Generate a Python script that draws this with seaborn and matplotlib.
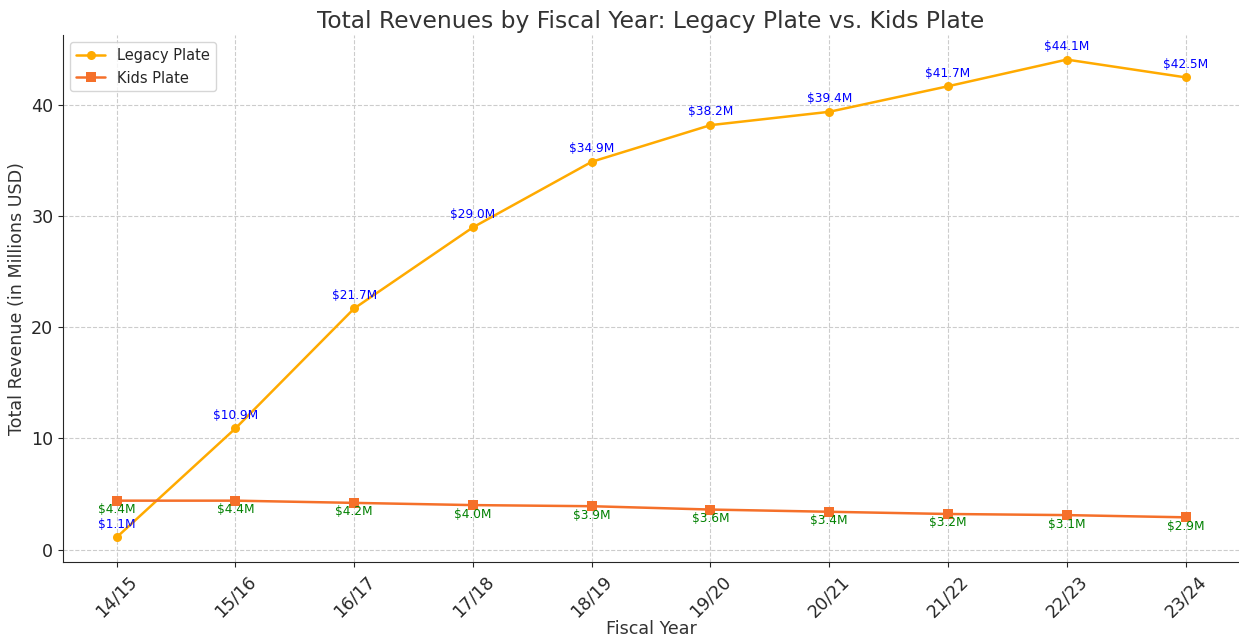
import matplotlib
matplotlib.use('Agg')
import matplotlib.pyplot as plt
import seaborn as sns
import pandas as pd

# data
years = ['14/15', '15/16', '16/17', '17/18', '18/19', '19/20', '20/21', '21/22', '22/23', '23/24']
legacy = [1.1, 10.9, 21.7, 29.0, 34.9, 38.2, 39.4, 41.7, 44.1, 42.5]
kids = [4.4, 4.4, 4.2, 4.0, 3.9, 3.6, 3.4, 3.2, 3.1, 2.9]

df = pd.DataFrame({'Fiscal_Year': years, 'Legacy': legacy, 'Kids': kids})

sns.set_style('ticks')
plt.rcParams['font.family'] = ['DejaVu Sans']

fig = plt.figure(figsize=(12.39, 6.39), dpi=100)
ax = fig.add_axes([0.051, 0.12, 0.949, 0.825])

sns.lineplot(data=df, x='Fiscal_Year', y='Legacy', marker='o', color='#FFAA00',
             label='Legacy Plate', ax=ax, markersize=6.5, markeredgewidth=0, linewidth=1.8)
sns.lineplot(data=df, x='Fiscal_Year', y='Kids', marker='s', color='#F5702A',
             label='Kids Plate', ax=ax, markersize=6.5, markeredgewidth=0, linewidth=1.8)

for i, v in enumerate(legacy):
    ax.annotate(f'${v}M', (i, v), textcoords='offset points', xytext=(0, 7),
                ha='center', fontsize=8.7, color='blue')
for i, v in enumerate(kids):
    ax.annotate(f'${v}M', (i, v), textcoords='offset points', xytext=(0, -9),
                ha='center', fontsize=8.7, color='green')

ax.set_title('Total Revenues by Fiscal Year: Legacy Plate vs. Kids Plate', fontsize=16.8,
             color='#333333', pad=5)
ax.set_xlabel('Fiscal Year', fontsize=12.6, color='#333333', labelpad=0)
ax.set_ylabel('Total Revenue (in Millions USD)', fontsize=12.6, color='#333333')
ax.set_ylim(-1.15, 46.3)
ax.set_yticks([0, 10, 20, 30, 40])
ax.tick_params(axis='x', rotation=45, labelsize=12.6)
ax.tick_params(axis='y', labelsize=12.6)
ax.grid(True, linestyle='--', color='#cccccc', linewidth=0.8)
sns.despine(ax=ax)
ax.legend(loc='upper left', fontsize=10.5)

plt.savefig('out.png', dpi=100)
